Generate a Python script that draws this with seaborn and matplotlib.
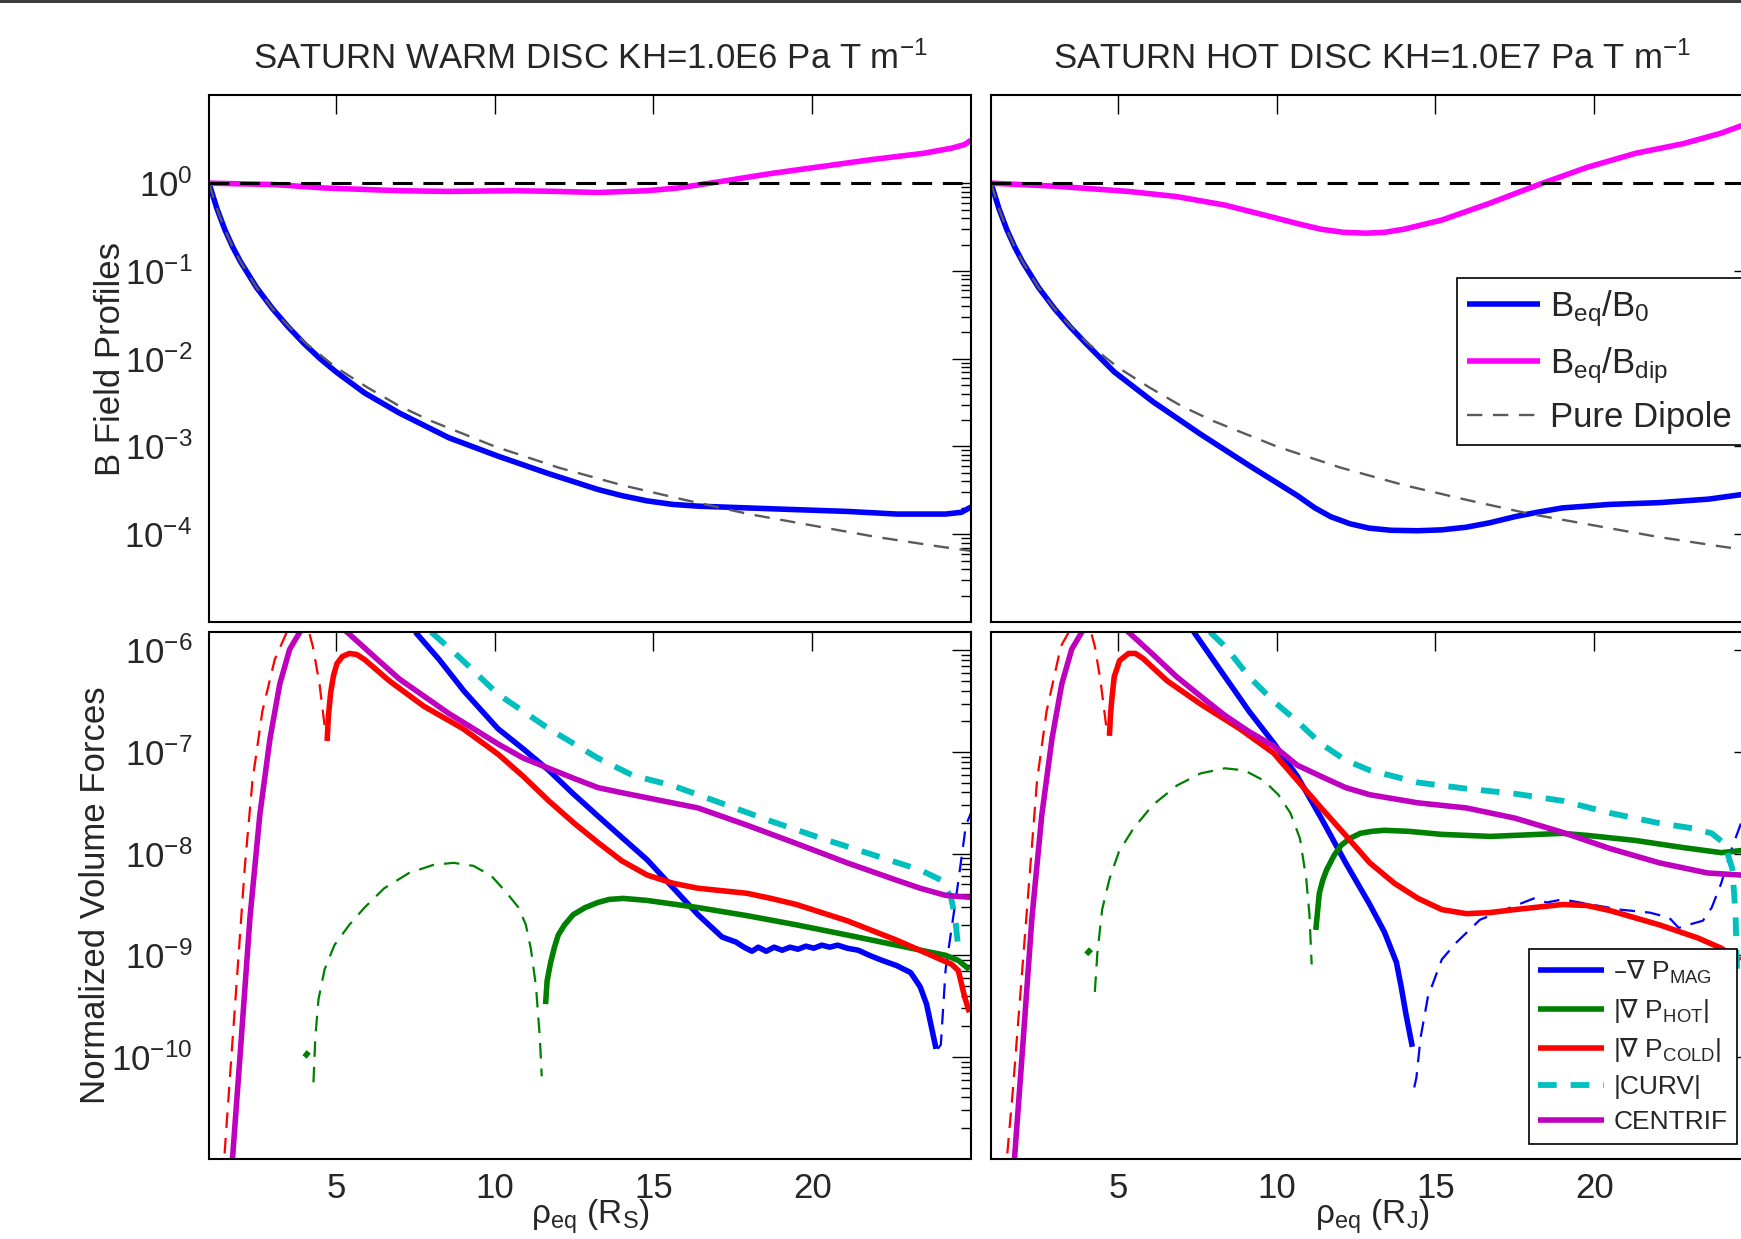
import numpy as np
import matplotlib
matplotlib.use('Agg')
import matplotlib.pyplot as plt
import matplotlib.ticker as mticker
import matplotlib.transforms as mtransforms
from matplotlib.patches import Rectangle
import seaborn as sns

# all y values are log10 of the plotted quantity
# ---------------- top row: B field profiles ----------------
dip_x = [1, 1.25, 1.5, 1.75, 2, 2.5, 3, 3.5, 4, 5, 6, 7, 8, 10, 12, 14, 16, 18, 20, 22, 24, 25]
dip_log = [0, -0.29, -0.53, -0.73, -0.90, -1.19, -1.43, -1.63, -1.81, -2.10, -2.33, -2.54, -2.71,
           -3.0, -3.24, -3.44, -3.61, -3.77, -3.90, -4.03, -4.14, -4.19]

warm_b0_x = [1, 1.25, 1.5, 1.75, 2, 2.5, 3, 3.5, 4, 4.5, 5, 5.9, 7.0, 8.55, 10.1, 11.7, 13.25,
             14.0, 14.8, 15.6, 16.4, 17.95, 19.5, 21.1, 22.66, 24.2, 24.7, 25]
warm_b0_log = [0, -0.29, -0.53, -0.73, -0.90, -1.19, -1.43, -1.64, -1.83, -2.0, -2.15, -2.39,
               -2.62, -2.90, -3.11, -3.31, -3.49, -3.56, -3.62, -3.66, -3.68, -3.70, -3.72,
               -3.74, -3.77, -3.77, -3.75, -3.69]
warm_bdip_x = [1, 3.07, 4.64, 7.0, 8.55, 10.6, 11.7, 13.25, 14.8, 15.76, 17.0, 18.7, 20.3,
               21.9, 23.5, 24.4, 24.8, 25]
warm_bdip_log = [0, -0.016, -0.055, -0.086, -0.094, -0.086, -0.092, -0.106, -0.086, -0.055,
                 0.012, 0.11, 0.19, 0.27, 0.34, 0.40, 0.44, 0.49]

hot_b0_x = [1, 1.25, 1.5, 1.75, 2, 2.5, 3, 3.5, 4, 4.88, 6.1, 7.6, 9.1, 10.65, 11.2, 11.7, 12.3,
            12.9, 13.6, 14.45, 15.2, 15.97, 16.7, 17.5, 18.2, 19.0, 20.5, 22.05, 23.6, 24.6, 25]
hot_b0_log = [0, -0.29, -0.53, -0.73, -0.90, -1.19, -1.43, -1.64, -1.83, -2.15, -2.49, -2.86,
              -3.21, -3.56, -3.70, -3.80, -3.88, -3.93, -3.955, -3.96, -3.95, -3.92, -3.87,
              -3.80, -3.75, -3.70, -3.66, -3.64, -3.60, -3.55, -3.52]
hot_bdip_x = [1, 3.05, 5.33, 6.85, 8.37, 9.9, 10.7, 11.4, 12.1, 12.8, 13.4, 14.0, 15.2, 16.7,
              18.25, 19.77, 21.3, 22.8, 24.0, 24.6, 25]
hot_bdip_log = [0, -0.035, -0.094, -0.153, -0.25, -0.39, -0.465, -0.525, -0.56, -0.57, -0.56,
                -0.525, -0.42, -0.23, -0.016, 0.18, 0.34, 0.45, 0.57, 0.65, 0.69]

# ---------------- bottom row: normalized volume forces ----------------
# warm disc
warm_mag_x = [7.5, 8.25, 9.03, 10.1, 10.9, 11.7, 12.47, 13.25, 14.04, 14.8, 15.6, 16.4, 17.16,
              17.6, 17.85, 18.1, 18.3, 18.55, 18.8, 19.05, 19.3, 19.55, 19.8, 20.05, 20.3, 20.55,
              20.8, 21.1, 21.45, 21.8, 22.2, 22.65, 23.1, 23.4, 23.6, 23.9]
warm_mag_log = [-5.82, -6.09, -6.40, -6.77, -6.97, -7.18, -7.41, -7.63, -7.85, -8.06, -8.33,
                -8.60, -8.82, -8.87, -8.92, -8.96, -8.92, -8.96, -8.92, -8.95, -8.92, -8.94,
                -8.91, -8.93, -8.90, -8.92, -8.90, -8.93, -8.95, -9.0, -9.05, -9.10, -9.17,
                -9.31, -9.48, -9.92]
warm_mag_neg_x = [23.95, 24.05, 24.2, 24.53, 24.84, 25]
warm_mag_neg_log = [-9.92, -9.88, -9.14, -8.43, -7.72, -7.6]

warm_hot_x = [11.6, 11.65, 11.76, 11.88, 12.0, 12.2, 12.47, 12.85, 13.25, 13.6, 14.04, 14.8,
              16.4, 17.95, 19.5, 21.1, 22.65, 24.2, 24.6, 24.95]
warm_hot_log = [-9.48, -9.25, -9.07, -8.92, -8.80, -8.70, -8.60, -8.53, -8.48, -8.45, -8.44,
                -8.46, -8.53, -8.61, -8.70, -8.80, -8.90, -9.0, -9.05, -9.14]
warm_hot_neg_x = [4.29, 4.35, 4.45, 4.64, 4.95, 5.42, 5.9, 6.52, 7.3, 8.07, 8.7, 9.33, 9.9,
                  10.36, 10.75, 10.98, 11.14, 11.3, 11.42, 11.48]
warm_hot_neg_log = [-10.25, -9.8, -9.43, -9.14, -8.90, -8.70, -8.53, -8.34, -8.19, -8.11,
                    -8.09, -8.12, -8.22, -8.38, -8.53, -8.70, -8.94, -9.31, -9.81, -10.19]
warm_hot_stub_x = [4.01, 4.14]
warm_hot_stub_log = [-10.0, -9.95]

warm_cold_x = [4.72, 4.76, 4.83, 4.92, 5.03, 5.2, 5.42, 5.65, 5.9, 6.68, 7.77, 9.0, 10.1, 10.9,
               11.7, 12.5, 13.25, 14.0, 14.8, 15.6, 16.4, 17.95, 18.7, 19.5, 21.1, 22.65,
               23.75, 24.4, 24.6, 24.8, 24.95]
warm_cold_log = [-6.89, -6.65, -6.42, -6.25, -6.13, -6.06, -6.03, -6.04, -6.09, -6.30, -6.55,
                 -6.77, -7.02, -7.24, -7.48, -7.70, -7.89, -8.07, -8.21, -8.29, -8.34, -8.39,
                 -8.44, -8.50, -8.66, -8.85, -9.0, -9.09, -9.15, -9.41, -9.56]
warm_cold_neg_x = [1.45, 1.48, 1.67, 1.9, 2.13, 2.37, 2.68, 3.07, 3.45, 3.8, 4.15, 4.27, 4.48,
                   4.64, 4.72]
warm_cold_neg_log = [-11.2, -11.0, -10.15, -9.14, -8.12, -7.28, -6.6, -6.09, -5.82, -5.70,
                     -5.82, -5.96, -6.33, -6.74, -6.89]

warm_curv_x = [8.0, 8.86, 10.1, 11.7, 13.25, 14.35, 15.6, 17.2, 18.7, 20.3, 21.8, 23.4, 24.06,
               24.37, 24.5, 24.6]
warm_curv_log = [-5.82, -6.06, -6.43, -6.77, -7.06, -7.23, -7.33, -7.51, -7.68, -7.85, -8.0,
                 -8.16, -8.26, -8.43, -8.63, -8.93]

warm_cent_x = [1.70, 1.74, 1.98, 2.29, 2.6, 2.92, 3.23, 3.54, 3.86, 4.3, 4.9, 5.42, 6.2, 6.99,
               7.77, 8.55, 9.33, 10.1, 10.9, 11.7, 12.5, 13.25, 14.0, 15.6, 16.4, 17.95, 19.5,
               21.1, 22.65, 23.4, 24.2, 25]
warm_cent_log = [-11.2, -11.0, -9.98, -8.63, -7.62, -6.87, -6.33, -5.99, -5.82, -5.65, -5.7,
                 -5.84, -6.06, -6.28, -6.45, -6.62, -6.77, -6.92, -7.06, -7.16, -7.26, -7.35,
                 -7.40, -7.50, -7.55, -7.72, -7.90, -8.09, -8.26, -8.34, -8.41, -8.43]

# hot disc
hot_mag_x = [7.3, 7.39, 8.37, 9.13, 9.9, 10.65, 11.4, 12.17, 12.93, 13.39, 13.77, 13.92, 14.07,
             14.27]
hot_mag_log = [-5.75, -5.82, -6.26, -6.60, -6.91, -7.24, -7.65, -8.09, -8.50, -8.77, -9.07,
               -9.31, -9.58, -9.90]
hot_mag_neg_x = [14.33, 14.4, 14.53, 14.76, 15.2, 15.67, 16.4, 17.2, 18.1, 18.5, 19.0, 19.9,
                 20.8, 21.75, 22.36, 22.66, 22.96, 23.42, 23.7, 24.0, 24.33, 24.6, 25]
hot_mag_neg_log = [-10.3, -10.2, -9.81, -9.41, -9.04, -8.87, -8.65, -8.55, -8.44, -8.48,
                   -8.45, -8.50, -8.55, -8.58, -8.63, -8.73, -8.70, -8.66, -8.53, -8.29, -7.95,
                   -7.72, -7.4]

hot_hot_x = [11.23, 11.34, 11.45, 11.57, 11.8, 12.02, 12.3, 12.63, 13.0, 13.39, 14.15, 15.2,
             16.73, 18.25, 19.0, 19.77, 21.3, 22.8, 24.0, 24.6, 25]
hot_hot_log = [-8.75, -8.39, -8.26, -8.16, -8.02, -7.92, -7.85, -7.80, -7.78, -7.77, -7.78,
               -7.81, -7.83, -7.81, -7.80, -7.82, -7.87, -7.94, -7.99, -7.97, -7.97]
hot_hot_neg_x = [4.27, 4.35, 4.5, 4.73, 5.03, 5.49, 6.1, 6.85, 7.6, 8.37, 8.98, 9.59, 10.05,
                 10.43, 10.73, 10.93, 11.03, 11.1]
hot_hot_neg_log = [-9.36, -8.98, -8.55, -8.25, -7.98, -7.75, -7.52, -7.33, -7.21, -7.16,
                   -7.18, -7.28, -7.42, -7.60, -7.85, -8.25, -8.6, -9.09]
hot_hot_stub_x = [4.0, 4.15]
hot_hot_stub_log = [-8.99, -8.94]

hot_cold_x = [4.73, 4.76, 4.80, 4.88, 5.05, 5.33, 5.55, 5.79, 6.55, 7.61, 8.83, 9.9, 10.65,
              11.4, 12.17, 12.93, 13.7, 14.45, 15.2, 15.97, 16.7, 17.5, 19.0, 19.77, 20.5,
              22.05, 23.27, 24.0, 24.6]
hot_cold_log = [-6.84, -6.65, -6.5, -6.26, -6.1, -6.03, -6.03, -6.08, -6.30, -6.53, -6.77,
                -7.01, -7.28, -7.55, -7.82, -8.09, -8.29, -8.44, -8.55, -8.59, -8.58, -8.55,
                -8.50, -8.51, -8.56, -8.70, -8.83, -8.93, -9.05]
hot_cold_neg_x = [1.45, 1.5, 1.69, 2.07, 2.45, 2.75, 3.2, 3.45, 3.8, 4.15, 4.27, 4.45, 4.65,
                  4.73]
hot_cold_neg_log = [-11.2, -11.0, -10.32, -8.80, -7.28, -6.60, -5.96, -5.82, -5.70, -5.82,
                    -5.96, -6.30, -6.80, -6.84]

hot_curv_x = [7.9, 8.37, 9.13, 9.9, 10.65, 11.4, 12.17, 12.93, 13.7, 14.45, 15.97, 17.5, 19.0,
              20.5, 22.05, 23.1, 23.7, 24.1, 24.35, 24.45, 24.5]
hot_curv_log = [-5.82, -5.96, -6.26, -6.50, -6.70, -6.92, -7.08, -7.18, -7.24, -7.30, -7.36,
                -7.41, -7.48, -7.60, -7.70, -7.75, -7.80, -7.90, -8.15, -8.6, -9.2]

hot_cent_x = [1.70, 1.74, 1.98, 2.29, 2.6, 2.92, 3.23, 3.54, 3.86, 4.3, 4.9, 5.4, 6.1, 6.85,
              7.6, 8.37, 9.13, 9.9, 10.65, 11.4, 12.17, 12.93, 14.45, 15.97, 17.5, 19.0, 20.5,
              22.05, 23.57, 24.6, 25]
hot_cent_log = [-11.2, -11.0, -9.98, -8.63, -7.62, -6.87, -6.33, -5.99, -5.82, -5.65, -5.7,
                -5.84, -6.04, -6.26, -6.45, -6.64, -6.80, -6.94, -7.13, -7.24, -7.35, -7.42,
                -7.50, -7.55, -7.65, -7.79, -7.95, -8.09, -8.19, -8.21, -8.22]

titles = ['SATURN WARM DISC KH=1.0E6 Pa T m$\\mathregular{^{-1}}$',
          'SATURN HOT DISC KH=1.0E7 Pa T m$\\mathregular{^{-1}}$']
xlabels = ['\u03c1$_{\\mathregular{eq}}$ (R$_{\\mathregular{S}}$)',
           '\u03c1$_{\\mathregular{eq}}$ (R$_{\\mathregular{J}}$)']
top_legend = ['$\\mathregular{B_{eq}/B_0}$', '$\\mathregular{B_{eq}/B_{dip}}$', 'Pure Dipole']
bot_legend = ['\u2013$\\nabla$ P$_{\\mathregular{MAG}}$', '|$\\nabla$ P$_{\\mathregular{HOT}}$|',
              '|$\\nabla$ P$_{\\mathregular{COLD}}$|', '|CURV|', 'CENTRIF']
x_ticks = [5, 10, 15, 20]

C_BLUE, C_MAGENTA, C_GREEN, C_RED = '#0000ff', '#ff00ff', '#008000', '#ff0000'
C_CYAN, C_PURPLE, C_GRAY = '#00bfbf', '#bf00bf', '#5a5a5a'

sns.set_style('white')
plt.rcParams['font.family'] = ['Liberation Sans', 'DejaVu Sans']
plt.rcParams['axes.linewidth'] = 1.5
plt.rcParams['lines.solid_capstyle'] = 'butt'

FS = 25


def draw(ax, x, logy, color, lw, dashes=None):
    sns.lineplot(x=np.asarray(x, float), y=10.0 ** np.asarray(logy, float), ax=ax,
                 color=color, linewidth=lw, estimator=None, sort=False)
    line = ax.lines[-1]
    if dashes is not None:
        line.set_dashes(dashes)
    return line


def style(ax, top_row):
    ax.set_yscale('log')
    ax.set_xlim(1, 25)
    ax.xaxis.set_major_locator(mticker.FixedLocator(x_ticks))
    ax.xaxis.set_minor_locator(mticker.NullLocator())
    if top_row:
        ax.set_ylim(1e-5, 1e1)
        majors = [10.0 ** k for k in range(-4, 1)]
        minors = [m * 10.0 ** k for k in range(-5, 0) for m in range(2, 10)]
    else:
        ax.set_ylim(1e-11, 1.5e-6)
        majors = [10.0 ** k for k in range(-10, -5)]
        minors = [m * 10.0 ** k for k in range(-11, -6) for m in range(2, 10)]
    ax.yaxis.set_major_locator(mticker.FixedLocator(majors))
    ax.yaxis.set_minor_locator(mticker.FixedLocator(minors))
    ax.yaxis.set_major_formatter(mticker.LogFormatterSciNotation())
    ax.yaxis.set_minor_formatter(mticker.NullFormatter())
    ax.tick_params(which='both', direction='in', top=True, right=True, width=1.0,
                   color='black', labelsize=FS)
    ax.tick_params(which='major', length=14)
    ax.tick_params(which='minor', length=7)
    ax.tick_params(axis='y', pad=12)
    ax.tick_params(axis='x', pad=10)
    for sp in ax.spines.values():
        sp.set_color('black')
        sp.set_linewidth(1.5)
    ax.set_xlabel('')
    ax.set_ylabel('')


fig = plt.figure(figsize=(17.41, 12.39), dpi=100)
W, H = 1741.0, 1239.0
col_x = [209 / W, 991 / W]
aw = 762 / W
top_box = ((H - 622) / H, 526.6 / H)
bot_box = ((H - 1158.6) / H, 526.1 / H)

b0 = [(warm_b0_x, warm_b0_log), (hot_b0_x, hot_b0_log)]
bdip = [(warm_bdip_x, warm_bdip_log), (hot_bdip_x, hot_bdip_log)]
forces = [
    dict(mag=(warm_mag_x, warm_mag_log), mag_neg=(warm_mag_neg_x, warm_mag_neg_log),
         hot=(warm_hot_x, warm_hot_log), hot_neg=(warm_hot_neg_x, warm_hot_neg_log),
         hot_stub=(warm_hot_stub_x, warm_hot_stub_log),
         cold=(warm_cold_x, warm_cold_log), cold_neg=(warm_cold_neg_x, warm_cold_neg_log),
         curv=(warm_curv_x, warm_curv_log), cent=(warm_cent_x, warm_cent_log)),
    dict(mag=(hot_mag_x, hot_mag_log), mag_neg=(hot_mag_neg_x, hot_mag_neg_log),
         hot=(hot_hot_x, hot_hot_log), hot_neg=(hot_hot_neg_x, hot_hot_neg_log),
         hot_stub=(hot_hot_stub_x, hot_hot_stub_log),
         cold=(hot_cold_x, hot_cold_log), cold_neg=(hot_cold_neg_x, hot_cold_neg_log),
         curv=(hot_curv_x, hot_curv_log), cent=(hot_cent_x, hot_cent_log)),
]

THICK, THIN = 4.0, 1.6

for i in range(2):
    # --- B field profiles ---
    ax = fig.add_axes([col_x[i], top_box[0], aw, top_box[1]])
    l_b0 = draw(ax, *b0[i], C_BLUE, THICK)
    l_bdip = draw(ax, *bdip[i], C_MAGENTA, THICK)
    l_dip = draw(ax, dip_x, dip_log, C_GRAY, 1.7, dashes=(6.5, 4.5))
    # unit reference line is drawn over the curves
    draw(ax, [1, 25], [0, 0], 'black', 2.2, dashes=(6.5, 3.5))
    style(ax, True)
    ax.tick_params(labelbottom=False)
    ax.set_title(titles[i], fontsize=FS, pad=19)
    if i == 0:
        ax.set_ylabel('B Field Profiles', fontsize=FS)
        ax.yaxis.set_label_coords(-0.108, 0.5)
    else:
        ax.tick_params(labelleft=False)
        leg = ax.legend([l_b0, l_bdip, l_dip], top_legend, loc='upper left',
                        bbox_to_anchor=(0.611, 0.653), borderaxespad=0, fontsize=FS,
                        frameon=True, fancybox=False, framealpha=1, edgecolor='black',
                        handlelength=2.1, handletextpad=0.3, labelspacing=0.45,
                        borderpad=0.3)
        leg.get_frame().set_linewidth(1.2)

    # --- normalized volume forces ---
    ax = fig.add_axes([col_x[i], bot_box[0], aw, bot_box[1]])
    f = forces[i]
    thin = (7, 4.5)
    h_mag = draw(ax, *f['mag'], C_BLUE, THICK)
    draw(ax, *f['mag_neg'], C_BLUE, THIN, dashes=thin)
    h_hot = draw(ax, *f['hot'], C_GREEN, THICK)
    draw(ax, *f['hot_neg'], C_GREEN, THIN, dashes=thin)
    draw(ax, *f['hot_stub'], C_GREEN, THICK)
    h_cold = draw(ax, *f['cold'], C_RED, THICK)
    draw(ax, *f['cold_neg'], C_RED, THIN, dashes=thin)
    h_curv = draw(ax, *f['curv'], C_CYAN, 4.2, dashes=(3.2, 2.4))
    h_cent = draw(ax, *f['cent'], C_PURPLE, THICK)
    style(ax, False)
    # x label sits on the very bottom edge of the figure, as in the original
    ax.set_xlabel(xlabels[i], fontsize=24, va='bottom')
    ax.xaxis.set_label_coords(0.5, 3 / H,
                              transform=mtransforms.blended_transform_factory(ax.transAxes,
                                                                              fig.transFigure))
    if i == 0:
        ax.set_ylabel('Normalized Volume Forces', fontsize=FS)
        ax.yaxis.set_label_coords(-0.127, 0.5)
    else:
        ax.tick_params(labelleft=False)
        leg = ax.legend([h_mag, h_hot, h_cold, h_curv, h_cent], bot_legend, loc='upper left',
                        bbox_to_anchor=(0.706, 0.398), borderaxespad=0, fontsize=19,
                        frameon=True, fancybox=False, framealpha=1, edgecolor='black',
                        handlelength=2.5, handletextpad=0.35, labelspacing=0.42,
                        borderpad=0.35)
        leg.get_frame().set_linewidth(1.2)

# thin dark band along the top edge of the original image
fig.patches.append(Rectangle((0, 1 - 2.5 / H), 1, 2.5 / H, transform=fig.transFigure,
                             facecolor='#3c3c3c', edgecolor='none', zorder=10))

fig.savefig('out.png', dpi=100)
